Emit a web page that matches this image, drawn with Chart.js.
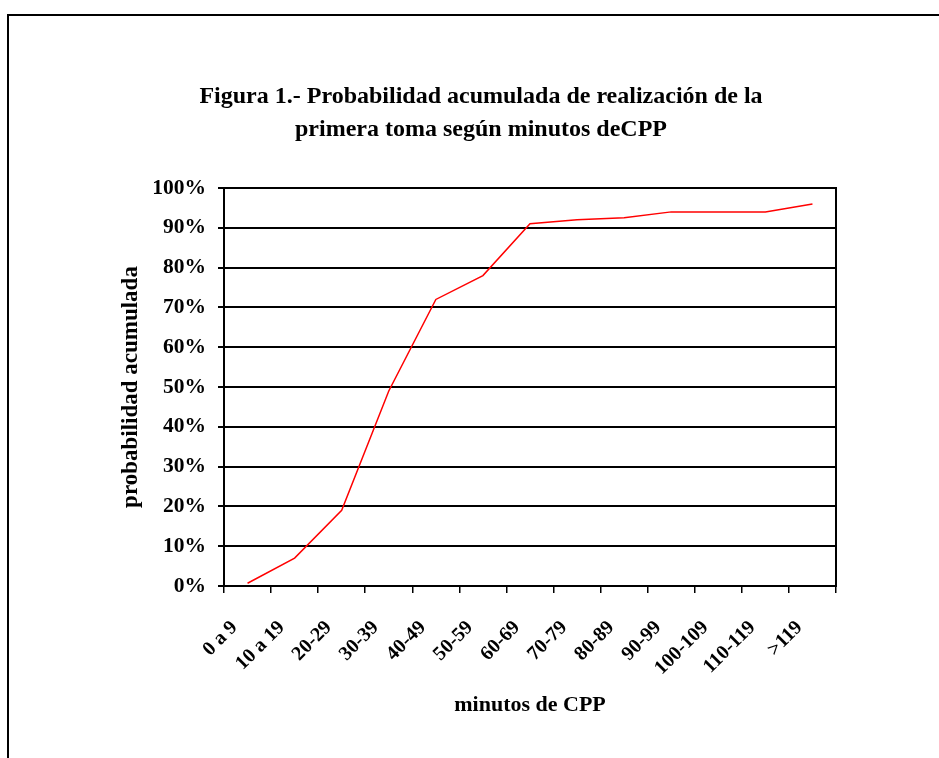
<!DOCTYPE html>
<html>
<head>
<meta charset="utf-8">
<script src="https://cdn.jsdelivr.net/npm/chart.js@4.4.1/dist/chart.umd.min.js"></script>
<style>
  body { margin: 0; background: #fff; }
  #wrap { position: relative; width: 939px; height: 758px; overflow: hidden; }
  #frame { position: absolute; left: 7px; top: 14px; width: 1000px; height: 800px;
           border-top: 2px solid #000; border-left: 2px solid #000; }
  #grafico { position: absolute; left: 0; top: 0; }
</style>
</head>
<body>
<div id="wrap">
  <div id="frame"></div>
  <canvas id="grafico" width="939" height="758"></canvas>
</div>
<script>
// datos
const categorias = ['0 a 9', '10 a 19', '20-29', '30-39', '40-49', '50-59', '60-69',
                    '70-79', '80-89', '90-99', '100-109', '110-119', '>119'];
const probAcumulada = [0.7, 7, 19, 49, 72, 78, 91, 92, 92.5, 94, 94, 94, 96];
const tituloLineas = ['Figura 1.- Probabilidad acumulada de realización de la',
                      'primera toma según minutos deCPP'];
const tituloY = 'probabilidad acumulada';
const tituloX = 'minutos de CPP';

const serif = '"Liberation Serif", "Times New Roman", serif';

const ctx = document.getElementById('grafico').getContext('2d');

new Chart(ctx, {
    type: 'line',
    data: {
        labels: categorias,
        datasets: [{
            data: probAcumulada,
            borderColor: '#ff0000',
            borderWidth: 1.5,
            pointRadius: 0,
            tension: 0,
            fill: false
        }]
    },
    options: {
        responsive: false,
        animation: false,
        layout: { padding: { left: 126, right: 103, top: 0, bottom: 0 } },
        plugins: {
            legend: { display: false },
            tooltip: { enabled: false },
            title: {
                display: true,
                text: tituloLineas,
                color: '#000',
                font: { family: serif, size: 24, weight: 'bold', lineHeight: 33 / 24 },
                padding: { top: 80.5, bottom: 41.5 }
            }
        },
        scales: {
            x: {
                offset: true,
                grid: {
                    offset: true,
                    drawOnChartArea: false,
                    drawTicks: true,
                    tickLength: 7,
                    color: '#000',
                    lineWidth: 1.5
                },
                border: { display: true, color: '#000', width: 2 },
                ticks: {
                    color: '#000',
                    font: { family: serif, size: 20, weight: 'bold' },
                    minRotation: 45,
                    maxRotation: 45,
                    autoSkip: false,
                    padding: 23,
                    labelOffset: -13
                },
                title: {
                    display: true,
                    text: tituloX,
                    color: '#000',
                    font: { family: serif, size: 22, weight: 'bold' },
                    padding: { top: 0, bottom: 39 }
                },
                afterFit: function(scale) { scale.height = 172; }
            },
            y: {
                min: 0,
                max: 100,
                grid: {
                    color: '#000',
                    lineWidth: 2,
                    tickLength: 6
                },
                border: { display: true, color: '#000', width: 2 },
                ticks: {
                    stepSize: 10,
                    color: '#000',
                    padding: 12,
                    font: { family: serif, size: 21.5, weight: 'bold' },
                    callback: v => v + '%'
                },
                title: {
                    display: true,
                    text: tituloY,
                    color: '#000',
                    font: { family: serif, size: 23, weight: 'bold' },
                    padding: { top: -9, bottom: 0 }
                },
                afterFit: function(scale) { scale.width = 98; }
            },
            yDer: {
                position: 'right',
                min: 0,
                max: 100,
                grid: { display: false },
                ticks: { display: false },
                border: { display: true, color: '#000', width: 2 },
                afterFit: function(scale) { scale.width = 0; }
            }
        }
    }
});
</script>
</body>
</html>
